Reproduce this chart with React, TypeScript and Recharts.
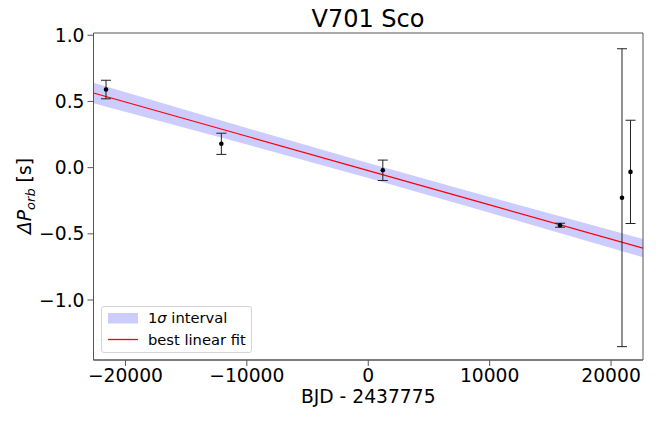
import {
  ComposedChart,
  Area,
  Line,
  Scatter,
  ErrorBar,
  XAxis,
  YAxis,
  ReferenceArea,
} from "recharts";

// observed period changes (BJD - 2437775, seconds)
const obsX = [-21600, -12100, 1200, 15800, 20900, 21600];
const obsY = [0.59, 0.18, -0.02, -0.435, -0.227, -0.032];
const obsErr = [0.07, 0.08, 0.077, 0.015, 1.125, 0.39];

// best linear fit and 1 sigma band, read at a few epochs
const fitX = [-22630, -10000, 0, 10000, 22630];
const fitY = [0.564, 0.237, -0.022, -0.281, -0.608];
const bandLow = [0.487, 0.175, -0.079, -0.341, -0.677];
const bandHigh = [0.641, 0.299, 0.035, -0.221, -0.539];

const xTicks = [-20000, -10000, 0, 10000, 20000];
const yTicks = [-1.0, -0.5, 0.0, 0.5, 1.0];

const X_MIN = -22630;
const X_MAX = 22630;
const Y_MIN = -1.453;
const Y_MAX = 1.017;

const FONT = "'DejaVu Sans', sans-serif";

const fitData = fitX.map((x, i) => ({
  x,
  fit: fitY[i],
  band: [bandLow[i], bandHigh[i]],
}));

const obsData = obsX.map((x, i) => ({ x, y: obsY[i], err: obsErr[i] }));

const minus = (s: string) => s.replace("-", "\u2212");

const YLabel = () => (
  <text
    x={0}
    y={0}
    transform="translate(31,196) rotate(-90)"
    textAnchor="middle"
    fontSize={18.7}
    fontFamily={FONT}
    fill="#000"
  >
    <tspan fontStyle="italic">ΔP</tspan>
    <tspan fontStyle="italic" fontSize={13} dy={4}>orb</tspan>
    <tspan dy={-4}> [s]</tspan>
  </text>
);

const App = () => {
  return (
    <div style={{ position: "fixed", left: 0, top: 0, width: 668, height: 421, background: "#fff" }}>
      <ComposedChart
        width={668}
        height={421}
        data={fitData}
        margin={{ top: 33, right: 25, bottom: 0, left: 0 }}
      >
        <text x={368} y={27} textAnchor="middle" fontSize={24} fontFamily={FONT} fill="#000">
          V701 Sco
        </text>

        <XAxis
          type="number"
          dataKey="x"
          domain={[X_MIN, X_MAX]}
          ticks={xTicks}
          allowDataOverflow
          height={61}
          tickSize={6}
          tickMargin={3}
          tickFormatter={(v: number) => minus(String(v))}
          tick={{ fill: "#000", fontSize: 18.7, fontFamily: FONT }}
          tickLine={{ stroke: "#555" }}
          axisLine={{ stroke: "#555" }}
          label={{
            value: "BJD - 2437775",
            position: "insideBottom",
            offset: 18,
            fill: "#000",
            fontSize: 18.7,
            fontFamily: FONT,
          }}
        />
        <YAxis
          type="number"
          domain={[Y_MIN, Y_MAX]}
          ticks={yTicks}
          allowDataOverflow
          width={93.5}
          tickSize={6}
          tickMargin={3}
          tickFormatter={(v: number) => minus(v.toFixed(1))}
          tick={{ fill: "#000", fontSize: 18.7, fontFamily: FONT }}
          tickLine={{ stroke: "#555" }}
          axisLine={{ stroke: "#555" }}
          label={{ content: () => <YLabel /> }}
        />

        {/* 1 sigma band */}
        <Area
          type="linear"
          dataKey="band"
          stroke="none"
          fill="#0000ff"
          fillOpacity={0.2}
          isAnimationActive={false}
          activeDot={false}
        />
        {/* best linear fit */}
        <Line
          type="linear"
          dataKey="fit"
          stroke="#ff0000"
          strokeWidth={1.2}
          dot={false}
          activeDot={false}
          isAnimationActive={false}
        />
        {/* observations */}
        <Scatter
          data={obsData}
          dataKey="y"
          isAnimationActive={false}
          shape={(p: any) => <circle cx={p.cx} cy={p.cy} r={2.3} fill="#000" />}
        >
          <ErrorBar dataKey="err" direction="y" width={5} stroke="#222" strokeWidth={1} />
        </Scatter>

        {/* frame */}
        <ReferenceArea
          x1={X_MIN}
          x2={X_MAX}
          y1={Y_MIN}
          y2={Y_MAX}
          fill="none"
          stroke="#555"
          strokeWidth={1}
          ifOverflow="visible"
        />
      </ComposedChart>

      {/* legend */}
      <div
        style={{
          position: "absolute",
          left: 101,
          top: 306,
          width: 151,
          height: 47,
          boxSizing: "border-box",
          border: "1px solid #d5d5d5",
          borderRadius: 3,
          background: "rgba(255,255,255,0.8)",
          fontFamily: FONT,
          fontSize: 14.7,
          color: "#000",
        }}
      >
        <svg width={40} height={45} style={{ position: "absolute", left: 0, top: 0 }}>
          <rect x={6} y={6} width={30} height={10.5} fill="#0000ff" fillOpacity={0.2} />
          <line x1={6} x2={36} y1={32.5} y2={32.5} stroke="#ff0000" strokeWidth={1.3} />
        </svg>
        <div style={{ position: "absolute", left: 46, top: 1, lineHeight: "20px" }}>
          1<span style={{ fontStyle: "italic" }}>σ</span> interval
        </div>
        <div style={{ position: "absolute", left: 46, top: 23, lineHeight: "20px" }}>best linear fit</div>
      </div>
    </div>
  );
};

export default App;
